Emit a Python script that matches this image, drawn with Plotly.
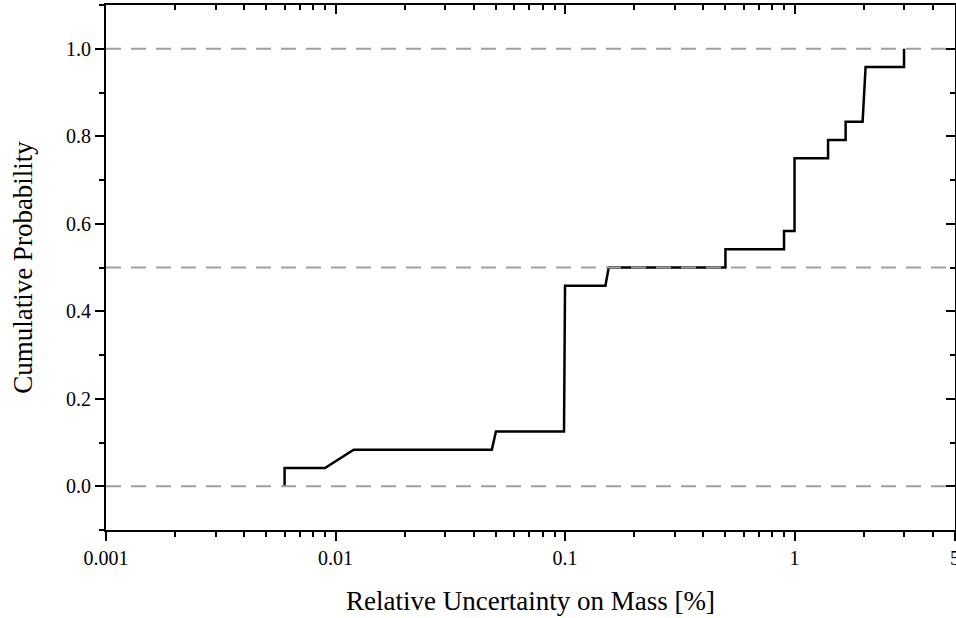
import plotly.graph_objects as go

# ECDF polyline vertices
x_vals = [0.006, 0.006, 0.009, 0.012, 0.048, 0.05, 0.099, 0.1, 0.15, 0.155, 0.5, 0.5,
          0.9, 0.9, 1.0, 1.0, 1.4, 1.4, 1.67, 1.67, 1.98, 2.04, 3.0, 3.0]
y_vals = [0.0, 0.0417, 0.0417, 0.0833, 0.0833, 0.125, 0.125, 0.4583, 0.4583, 0.5, 0.5, 0.5417,
          0.5417, 0.5833, 0.5833, 0.75, 0.75, 0.7917, 0.7917, 0.8333, 0.8333, 0.9583, 0.9583, 1.0]
ref_lines = [0.0, 0.5, 1.0]

x_ticks = [0.001, 0.01, 0.1, 1, 5]
x_ticklabels = ["0.001", "0.01", "0.1", "1", "5"]
x_minor = [m * 10.0 ** e for e in (-3, -2, -1) for m in range(2, 10)] + [2, 3, 4]
y_ticks = [0.0, 0.2, 0.4, 0.6, 0.8, 1.0]
y_minor = [-0.1, 0.1, 0.3, 0.5, 0.7, 0.9, 1.1]

FONT = "Liberation Serif, Times New Roman, serif"
xr = [-3, 0.6992]
yr = [-0.1, 1.1]

fig = go.Figure()
fig.add_trace(go.Scatter(x=x_vals, y=y_vals, mode="lines",
                         line=dict(color="black", width=2.5), showlegend=False,
                         hoverinfo="skip"))
fig.add_trace(go.Scatter(x=[0.01], y=[0.5], xaxis="x2", yaxis="y2", mode="markers",
                         marker=dict(opacity=0), showlegend=False, hoverinfo="skip"))

for yv in ref_lines:
    fig.add_shape(type="line", xref="paper", x0=0, x1=1, yref="y", y0=yv, y1=yv,
                  line=dict(color="#A0A0A0", width=2, dash="15px,10px"), layer="above")

fig.update_layout(
    width=956, height=618,
    margin=dict(l=106, r=1, t=5, b=88),
    paper_bgcolor="white", plot_bgcolor="white",
    font=dict(family=FONT, size=20, color="black"),
    xaxis=dict(type="log", range=xr, showgrid=False, zeroline=False, automargin=False,
               showline=True, linecolor="black", linewidth=2,
               ticks="outside", ticklen=9, tickwidth=2, tickcolor="black",
               tickvals=x_ticks, ticktext=x_ticklabels, ticklabeloverflow="allow",
               minor=dict(tickvals=x_minor, ticks="outside", ticklen=5,
                          tickwidth=2, tickcolor="black", showgrid=False),
               title=dict(text="Relative Uncertainty on Mass [%]",
                          font=dict(family=FONT, size=27), standoff=23)),
    yaxis=dict(range=yr, showgrid=False, zeroline=False, automargin=False,
               showline=True, linecolor="black", linewidth=2,
               ticks="outside", ticklen=9, tickwidth=2, tickcolor="black",
               tickvals=y_ticks, tickformat=".1f",
               minor=dict(tickvals=y_minor, ticks="outside", ticklen=5,
                          tickwidth=2, tickcolor="black", showgrid=False),
               title=dict(text="Cumulative Probability",
                          font=dict(family=FONT, size=27), standoff=26)),
    xaxis2=dict(type="log", range=xr, overlaying="x", side="top", anchor="y",
                automargin=False,
                showgrid=False, zeroline=False, showline=True, linecolor="black",
                linewidth=2, ticks="inside", ticklen=9, tickwidth=2, tickcolor="black",
                tickvals=x_ticks, showticklabels=False,
                minor=dict(tickvals=x_minor, ticks="inside", ticklen=5,
                           tickwidth=2, tickcolor="black", showgrid=False)),
    yaxis2=dict(range=yr, overlaying="y", side="right", anchor="x",
                automargin=False,
                showgrid=False, zeroline=False, showline=True, linecolor="black",
                linewidth=2, ticks="inside", ticklen=9, tickwidth=2, tickcolor="black",
                tickvals=y_ticks, showticklabels=False,
                minor=dict(tickvals=y_minor, ticks="inside", ticklen=5,
                           tickwidth=2, tickcolor="black", showgrid=False)),
)

fig.write_html("out.html", config={"displayModeBar": False},
               post_script="document.body.style.margin='0';document.body.style.overflow='hidden';")
